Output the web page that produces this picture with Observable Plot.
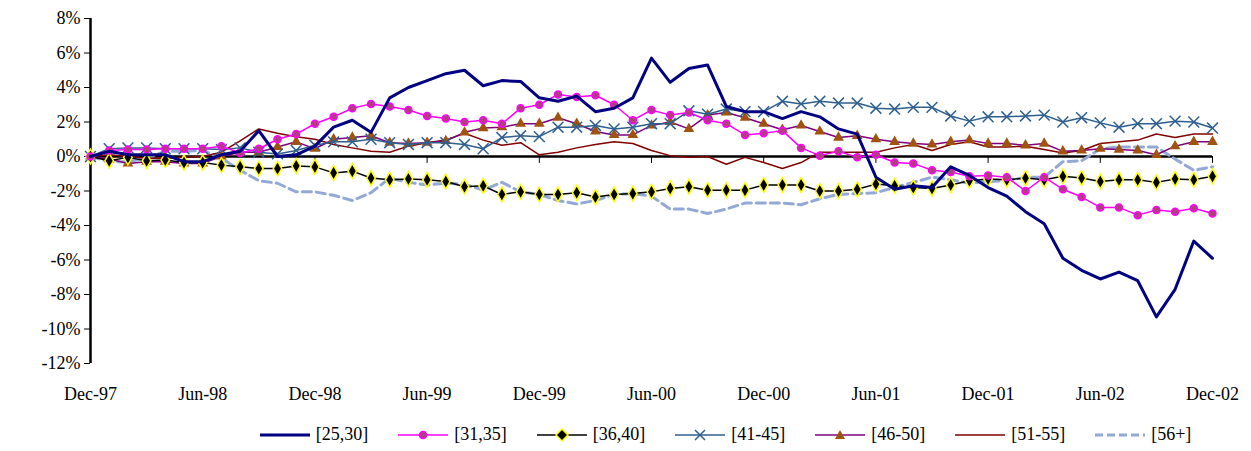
<!DOCTYPE html>
<html><head><meta charset="utf-8">
<script src="https://cdn.jsdelivr.net/npm/d3@7"></script>
<script src="https://cdn.jsdelivr.net/npm/@observablehq/plot@0.6"></script>
<style>
body{margin:0;background:#fff;font-family:"Liberation Serif","Times New Roman",serif;}
#legend{display:flex;gap:30px;justify-content:center;margin-left:200px;font-size:18px;margin-top:14px}
#legend span{display:flex;align-items:center;gap:6px}
</style></head><body>
<div id="chart"></div><div id="legend"></div>
<script>
const tickLabels=["Dec-97","Jun-98","Dec-98","Jun-99","Dec-99","Jun-00","Dec-00","Jun-01","Dec-01","Jun-02","Dec-02"];
const s25_30=[0,0.3,0.1,0.1,0.1,-0.3,-0.3,0.1,0.3,1.5,0,0.1,0.6,1.7,2.1,1.4,3.4,4.0,4.4,4.8,5.0,4.1,4.4,4.35,3.4,3.2,3.5,2.6,2.8,3.4,5.7,4.3,5.1,5.3,2.9,2.6,2.6,2.2,2.6,2.3,1.6,1.3,-1.2,-1.9,-1.7,-1.8,-0.6,-1.1,-1.8,-2.3,-3.2,-3.9,-5.9,-6.6,-7.1,-6.7,-7.2,-9.3,-7.7,-4.9,-5.9];
const s31_35=[0,0.35,0.4,0.4,0.45,0.45,0.45,0.6,0.2,0.45,1.0,1.3,1.9,2.3,2.8,3.05,2.9,2.7,2.35,2.2,2.0,2.1,1.9,2.8,3.0,3.6,3.45,3.55,3.0,2.1,2.7,2.4,2.55,2.1,1.9,1.25,1.35,1.5,0.5,0.05,0.3,-0.05,0.1,-0.35,-0.4,-0.8,-0.9,-1.15,-1.1,-1.2,-2.0,-1.2,-1.9,-2.35,-2.95,-2.95,-3.4,-3.1,-3.2,-3.0,-3.3];
const s36_40=[0,-0.25,-0.05,-0.25,-0.2,-0.35,-0.35,-0.5,-0.6,-0.7,-0.7,-0.55,-0.6,-0.95,-0.85,-1.25,-1.35,-1.3,-1.35,-1.45,-1.75,-1.7,-2.2,-2.05,-2.2,-2.2,-2.1,-2.35,-2.2,-2.15,-2.05,-1.85,-1.75,-1.95,-1.95,-1.95,-1.65,-1.65,-1.65,-2.0,-2.0,-1.9,-1.6,-1.7,-1.8,-1.85,-1.65,-1.4,-1.3,-1.35,-1.25,-1.35,-1.15,-1.25,-1.45,-1.35,-1.35,-1.5,-1.3,-1.35,-1.15];
const s41_45=[0,0.45,0.5,0.5,0.45,0.45,0.45,0.4,0.5,0.25,0.15,0.35,0.65,0.85,0.85,1.0,0.8,0.7,0.8,0.8,0.7,0.45,1.1,1.2,1.15,1.7,1.7,1.8,1.6,1.7,1.9,1.9,2.65,2.45,2.75,2.6,2.6,3.2,3.05,3.2,3.1,3.1,2.8,2.75,2.85,2.85,2.35,2.05,2.3,2.3,2.35,2.4,2.0,2.25,1.95,1.7,1.9,1.9,2.05,2.0,1.65];
const s46_50=[0,-0.15,-0.4,-0.3,-0.3,-0.4,-0.4,0,0.25,0.25,0.55,0.85,0.45,1.0,1.1,1.2,0.8,0.75,0.8,0.9,1.4,1.65,1.7,1.9,1.9,2.25,1.9,1.45,1.25,1.25,1.8,2.0,1.6,2.4,2.55,2.25,1.9,1.55,1.8,1.45,1.1,1.2,1.0,0.85,0.75,0.7,0.85,0.95,0.75,0.75,0.65,0.75,0.3,0.35,0.45,0.4,0.35,0.1,0.6,0.85,0.85];
const s51_55=[0,0.1,0,-0.1,-0.1,-0.05,0,0.25,0.9,1.6,1.35,1.15,1.0,0.7,0.5,0.3,0.25,0.6,0.8,0.95,1.35,0.95,0.65,0.8,0.1,0.25,0.5,0.7,0.85,0.75,0.35,0.05,-0.05,0,-0.45,-0.05,-0.35,-0.7,-0.35,0.25,0.25,0.25,0.25,0.5,0.7,0.35,0.7,0.85,0.55,0.55,0.6,0.4,0.2,0.35,0.75,0.85,0.95,1.3,1.1,1.3,1.3];
const s56p=[0,-0.3,-0.3,-0.1,0.3,0.3,0.35,-0.1,-0.8,-1.4,-1.55,-2.05,-2.05,-2.25,-2.55,-2.1,-1.25,-1.5,-1.65,-1.55,-1.6,-1.95,-1.5,-2.05,-2.2,-2.55,-2.75,-2.55,-2.2,-2.15,-2.3,-3.05,-3.05,-3.3,-3.05,-2.7,-2.7,-2.7,-2.8,-2.45,-2.2,-2.15,-2.1,-1.8,-1.5,-1.2,-1.35,-1.55,-1.45,-1.4,-1.2,-1.2,-0.3,-0.25,0.45,0.55,0.55,0.55,-0.15,-0.8,-0.6];
const seriesNames=["[25,30]","[31,35]","[36,40]","[41-45]","[46-50]","[51-55]","[56+]"];
const seriesVals=[s25_30,s31_35,s36_40,s41_45,s46_50,s51_55,s56p];
const tickMonths=d3.range(0,61,6);
const yTicks=d3.range(-12,9,2);
const data=seriesVals.map((v,i)=>v.map((y,m)=>({m,y:y,s:seriesNames[i]})));
const line=(i,o)=>Plot.line(data[i],{x:"m",y:"y",...o});
const dot=(i,o)=>Plot.dot(data[i],{x:"m",y:"y",...o});
const chart=Plot.plot({
  width:1251,height:410,marginLeft:90,marginRight:39,marginTop:18,marginBottom:47,
  style:{fontFamily:"Liberation Serif, Times New Roman, serif",fontSize:"18px",background:"#fff",fontWeight:"normal"},
  x:{domain:[0,60]},
  y:{domain:[-12,8]},
  marks:[
    Plot.axisX({ticks:tickMonths,tickFormat:(d)=>tickLabels[d/6],tickSize:0,tickPadding:24,label:null,fontSize:18}),
    Plot.axisY({ticks:yTicks,tickFormat:d=>d+"%",tickSize:6,label:null,fontSize:18,tickPadding:4}),
    Plot.ruleX([0],{stroke:"#000",strokeWidth:2.5}),
    Plot.ruleY([0],{stroke:"#000",strokeWidth:2.5}),
    Plot.ruleX(tickMonths,{y1:0,y2:-0.4,stroke:"#000",strokeWidth:1}),
    line(6,{stroke:"#92a9d6",strokeWidth:3,strokeDasharray:"9,5"}),
    line(5,{stroke:"#800000",strokeWidth:1.5}),
    line(4,{stroke:"#800080",strokeWidth:1.5}),
    dot(4,{symbol:"triangle",r:4,fill:"#a0520f",stroke:"none"}),
    line(3,{stroke:"#2f5f8f",strokeWidth:1.5}),
    dot(3,{symbol:"times",r:5,stroke:"#2f5f8f",strokeWidth:1.5}),
    line(2,{stroke:"#000",strokeWidth:1.5}),
    dot(2,{symbol:"diamond",r:4.5,fill:"#000",stroke:"#ffff00",strokeWidth:1.5}),
    line(1,{stroke:"#ff00ff",strokeWidth:1.5}),
    dot(1,{r:3.5,fill:"#b0407a",stroke:"#ff00ff",strokeWidth:1.5}),
    line(0,{stroke:"#000080",strokeWidth:3})
  ]
});
document.getElementById("chart").append(chart);
const sw=[
 '<line x1="0" y1="8" x2="50" y2="8" stroke="#000080" stroke-width="3"/>',
 '<line x1="0" y1="8" x2="50" y2="8" stroke="#ff00ff" stroke-width="1.5"/><circle cx="25" cy="8" r="3.5" fill="#b0407a" stroke="#ff00ff" stroke-width="1.5"/>',
 '<line x1="0" y1="8" x2="50" y2="8" stroke="#000" stroke-width="1.5"/><path d="M25 2L31 8L25 14L19 8Z" fill="#000" stroke="#ff0" stroke-width="1.5"/>',
 '<line x1="0" y1="8" x2="50" y2="8" stroke="#2f5f8f" stroke-width="1.5"/><path d="M20 3L30 13M30 3L20 13" stroke="#2f5f8f" stroke-width="1.5"/>',
 '<line x1="0" y1="8" x2="50" y2="8" stroke="#800080" stroke-width="1.5"/><path d="M25 3L30 12L20 12Z" fill="#a0520f"/>',
 '<line x1="0" y1="8" x2="50" y2="8" stroke="#800000" stroke-width="1.5"/>',
 '<line x1="0" y1="8" x2="50" y2="8" stroke="#92a9d6" stroke-width="3" stroke-dasharray="8,4"/>'
];
document.getElementById("legend").innerHTML=seriesNames.map((n,i)=>`<span><svg width="50" height="16">${sw[i]}</svg>${n}</span>`).join("");
</script></body></html>
